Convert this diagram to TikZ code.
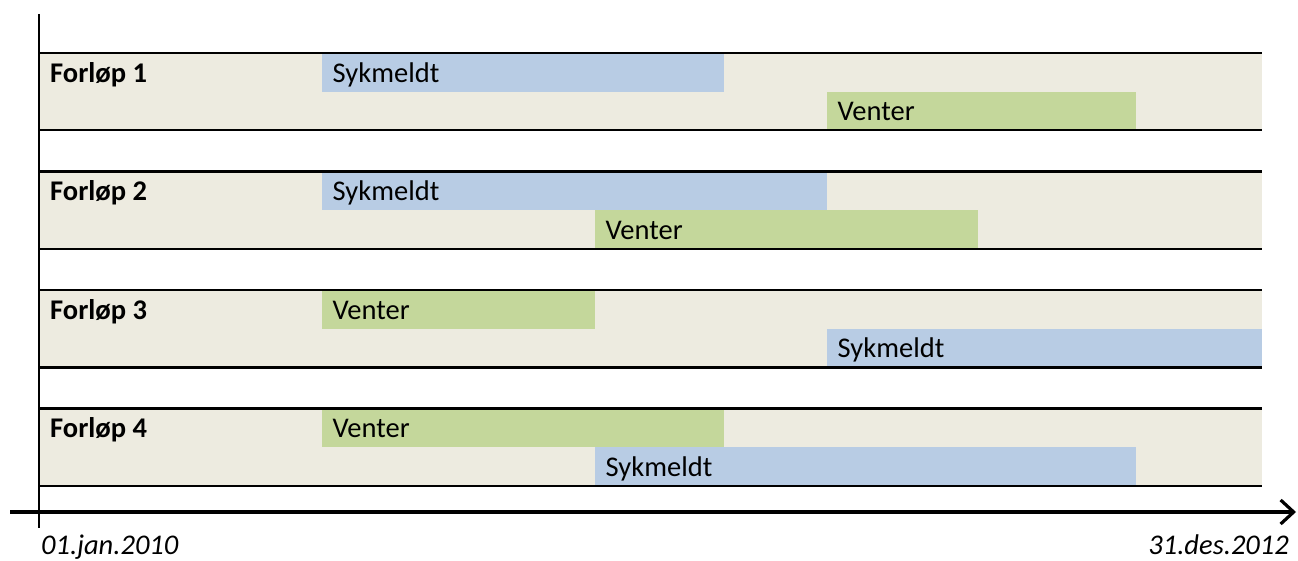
\documentclass[tikz,border=0pt]{standalone}
\usepackage{fontspec}
\setmainfont{Carlito}
\usetikzlibrary{arrows.meta}
\definecolor{bandc}{HTML}{EDEBE0}
\definecolor{sykc}{HTML}{B8CCE4}
\definecolor{ventc}{HTML}{C4D79B}
\begin{document}
\begin{tikzpicture}[x=1pt,y=-1pt,
  every node/.style={font=\fontsize{28.5}{32}\selectfont},
  bandbox/.style={fill=bandc, draw=none, anchor=north west, inner sep=0pt, minimum width=1223pt, minimum height=77pt},
  barbox/.style={anchor=north west, inner sep=0pt, minimum height=38.5pt, draw=none},
  sykbar/.style={barbox, fill=sykc},
  ventbar/.style={barbox, fill=ventc},
  barlabel/.style={anchor=base west, inner sep=0pt},
  rowhead/.style={anchor=base west, inner sep=0pt, font=\fontsize{28.5}{32}\selectfont\bfseries},
  rowline/.style={line width=2.2pt},
  axisline/.style={line width=3.2pt},
  datelabel/.style={anchor=base, inner sep=0pt, font=\fontsize{28.5}{32}\selectfont\itshape}]
\useasboundingbox (0,0) rectangle (1298,561);

% bands
\foreach \i/\t in {1/53,2/171.5,3/290,4/408.5}{
  \node[bandbox] (band\i) at (39,\t) {};
}
% row 1
\node[sykbar, minimum width=402pt] (s1) at (322,53) {};
\node[ventbar, minimum width=309pt] (v1) at (827,91.5) {};
% row 2
\node[sykbar, minimum width=505pt] (s2) at (322,171.5) {};
\node[ventbar, minimum width=383pt] (v2) at (595,210) {};
% row 3
\node[ventbar, minimum width=273pt] (v3) at (322,290) {};
\node[sykbar, minimum width=435pt] (s3) at (827,328.5) {};
% row 4
\node[ventbar, minimum width=402pt] (v4) at (322,408.5) {};
\node[sykbar, minimum width=541pt] (s4) at (595,447) {};

% bar labels
\foreach \b/\txt in {s1/Sykmeldt,v1/Venter,s2/Sykmeldt,v2/Venter,v3/Venter,s3/Sykmeldt,v4/Venter,s4/Sykmeldt}{
  \node[barlabel] (l\b) at ([xshift=10.5pt,yshift=-29.3pt]\b.north west) {\txt};
}

% row lines
\foreach \i in {1,2,3,4}{
  \draw[rowline] (band\i.north west) -- (band\i.north east);
  \draw[rowline] (band\i.south west) -- (band\i.south east);
  \node[rowhead] (h\i) at ([xshift=11pt,yshift=-29.3pt]band\i.north west) {Forløp \i};
}

% axes
\coordinate (vtop) at (39,14);
\coordinate (vbot) at (39,528);
\draw[line width=2pt] (vtop) -- (vbot);
\coordinate (axl) at (10,512);
\coordinate (axr) at (1296,512);
\draw[axisline, -{Straight Barb[length=13pt,width=24pt]}] (axl) -- (axr);

% dates
\node[datelabel, anchor=base west] (d1) at (41,554) {01.jan.2010};
\node[datelabel, anchor=base east] (d2) at (1289,554) {31.des.2012};
\end{tikzpicture}
\end{document}
